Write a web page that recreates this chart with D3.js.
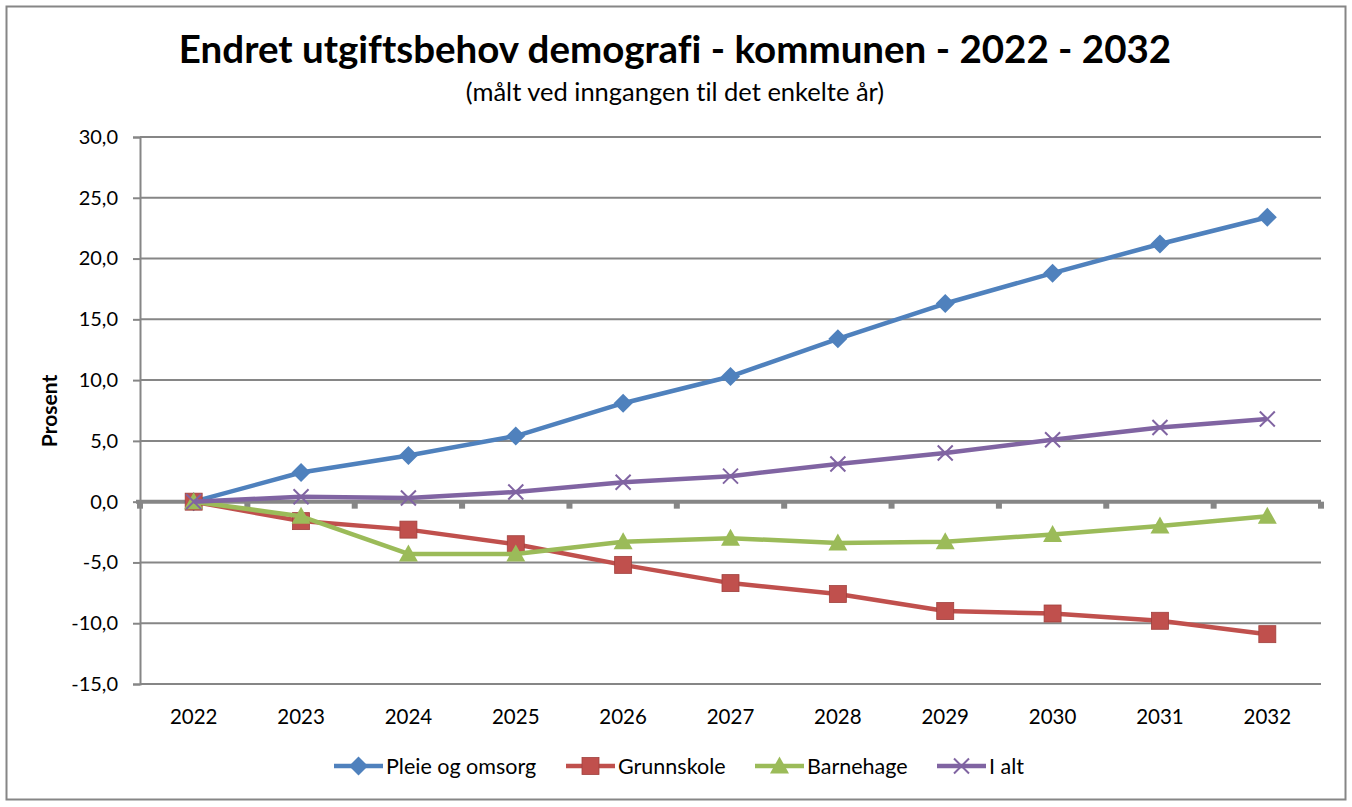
<!DOCTYPE html>
<html><head><meta charset="utf-8">
<script src="https://cdn.jsdelivr.net/npm/d3@7"></script>
<style>body{margin:0;background:#fff;} text{font-family:Lato, "Open Sans", sans-serif;font-variant-ligatures:none;font-feature-settings:"liga" 0;}</style>
</head><body>
<svg id="c" width="1352" height="807"></svg>
<script>
const years = ["2022","2023","2024","2025","2026","2027","2028","2029","2030","2031","2032"];
const pleie = [0,2.4,3.8,5.4,8.1,10.3,13.4,16.3,18.8,21.2,23.4];
const grunnskole = [0,-1.6,-2.3,-3.5,-5.2,-6.7,-7.6,-9.0,-9.2,-9.8,-10.9];
const barnehage = [0,-1.2,-4.3,-4.3,-3.3,-3.0,-3.4,-3.3,-2.7,-2.0,-1.2];
const ialt = [0,0.4,0.3,0.8,1.6,2.1,3.1,4.0,5.1,6.1,6.8];
const yTicks = [-15,-10,-5,0,5,10,15,20,25,30];
const seriesNames = ["Pleie og omsorg","Grunnskole","Barnehage","I alt"];
const colors = ["#4F81BD","#C0504D","#9BBB59","#8064A2"];
const symbols = ["diamond","square","triangle","x"];

const svg = d3.select("#c");
svg.append("rect").attr("x",6.5).attr("y",6.5).attr("width",1339).attr("height",793)
  .attr("fill","#fff").attr("stroke","#868686").attr("stroke-width",2);

const L=140, R=1321, T=137, B=684;
const x = d3.scaleBand().domain(years).range([L,R]);
const y = d3.scaleLinear().domain([-15,30]).range([B,T]);
const cx = d => x(d)+x.bandwidth()/2;

// gridlines
svg.append("g").selectAll("line").data(yTicks.filter(v=>v!==0)).join("line")
  .attr("x1",L).attr("x2",R).attr("y1",d=>y(d)).attr("y2",d=>y(d))
  .attr("stroke","#868686").attr("stroke-width",2);
// y axis
const ya = svg.append("g").attr("transform",`translate(${L},0)`)
  .call(d3.axisLeft(y).tickValues(yTicks).tickSize(7).tickPadding(15)
    .tickFormat(d=>d3.format(".1f")(d).replace(".",",").replace("−","-")));
ya.select(".domain").attr("stroke","#868686").attr("stroke-width",2);
ya.selectAll(".tick line").attr("stroke","#868686").attr("stroke-width",2);
ya.selectAll(".tick text").attr("font-size",20).attr("fill","#000").style("font-family","Lato");

// zero axis with ticks at category boundaries
const xa = svg.append("g").attr("transform",`translate(0,${y(0)})`);
xa.append("line").attr("x1",L-4).attr("x2",R).attr("y1",0).attr("y2",0)
  .attr("stroke","#868686").attr("stroke-width",4);
const bounds = years.map(d=>x(d)).concat([R]);
xa.selectAll("rect.tk").data(bounds).join("rect").attr("class","tk")
  .attr("x",d=>d-3).attr("y",0).attr("width",6).attr("height",7).attr("fill","#868686");

// x labels at bottom
svg.append("g").selectAll("text").data(years).join("text")
  .attr("x",d=>cx(d)).attr("y",724).attr("text-anchor","middle")
  .attr("font-size",20.5).text(d=>d);

const data = [pleie,grunnskole,barnehage,ialt];
const line = d3.line().x((d,i)=>cx(years[i])).y(d=>y(d));

function marker(g, type, color, px, py) {
  if (type==="diamond") {
    g.append("path").attr("d",`M${px},${py-9.5}L${px+9.5},${py}L${px},${py+9.5}L${px-9.5},${py}Z`).attr("fill",color);
  } else if (type==="square") {
    g.append("rect").attr("x",px-8.5).attr("y",py-8.5).attr("width",17).attr("height",17).attr("fill",color).attr("stroke","#a0403d").attr("stroke-width",0.8);
  } else if (type==="triangle") {
    g.append("path").attr("d",`M${px},${py-9.5}L${px+9.5},${py+7.5}L${px-9.5},${py+7.5}Z`).attr("fill",color);
  } else {
    g.append("path").attr("d",`M${px-7.5},${py-7.5}L${px+7.5},${py+7.5}M${px-7.5},${py+7.5}L${px+7.5},${py-7.5}`).attr("stroke",color).attr("stroke-width",2).attr("fill","none");
  }
}

data.forEach((vals,si)=>{
  const g = svg.append("g");
  g.append("path").datum(vals).attr("d",line).attr("fill","none")
    .attr("stroke",colors[si]).attr("stroke-width",4.5).attr("stroke-linejoin","round");
  vals.forEach((v,i)=>marker(g,symbols[si],colors[si],cx(years[i]),y(v)));
});

// title
svg.append("text").attr("x",675).attr("y",63).attr("text-anchor","middle")
  .attr("font-size",38.5).attr("font-weight","bold").text("Endret utgiftsbehov demografi - kommunen - 2022 - 2032");
svg.append("text").attr("x",675).attr("y",101).attr("text-anchor","middle")
  .attr("font-size",25.5).text("(målt ved inngangen til det enkelte år)");
// y title
svg.append("text").attr("transform","translate(57,411) rotate(-90)").attr("text-anchor","middle")
  .attr("font-size",21).attr("font-weight","bold").text("Prosent");

// legend
const legX = [334,566,755,937];
seriesNames.forEach((n,i)=>{
  const g = svg.append("g");
  const lx = legX[i], ly = 766;
  g.append("line").attr("x1",lx).attr("x2",lx+49).attr("y1",ly).attr("y2",ly).attr("stroke",colors[i]).attr("stroke-width",4.5);
  marker(g,symbols[i],colors[i],lx+24.5,ly);
  g.append("text").attr("x",lx+52).attr("y",ly+8).attr("font-size",21.5).text(n);
});
</script>
</body></html>
